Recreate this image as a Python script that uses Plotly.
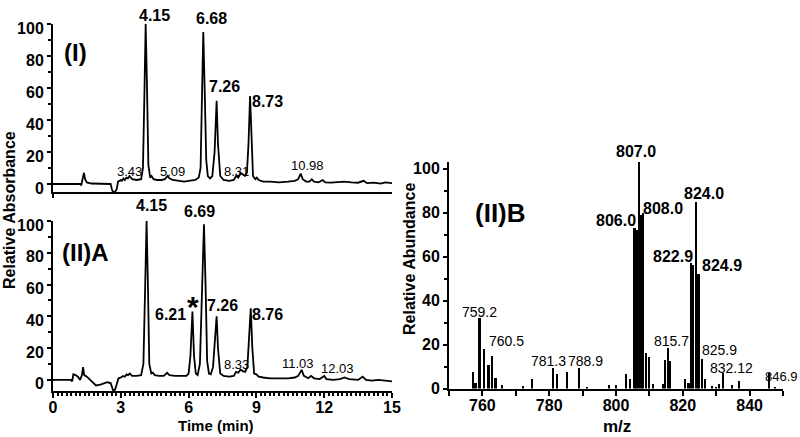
import plotly.graph_objects as go

# ---------------- data ----------------
# Panel (I): chromatogram, time (min) vs relative absorbance
time_I = [0, 0.8, 1.2, 1.25, 1.3, 1.37, 1.42, 1.5, 1.7, 2.0, 2.3, 2.55, 2.6, 2.65, 2.75, 2.82, 2.88,
          3.0, 3.05, 3.12, 3.18, 3.25, 3.32, 3.38, 3.5, 3.7, 3.9, 3.98, 4.05, 4.1, 4.16, 4.22, 4.3,
          4.36, 4.45, 4.6, 4.8, 4.95, 5.07, 5.15, 5.3, 5.5, 5.8, 6.0, 6.3, 6.45, 6.53, 6.6, 6.65,
          6.71, 6.78, 6.85, 6.95, 7.05, 7.15, 7.24, 7.3, 7.4, 7.55, 7.8, 8.0, 8.1, 8.2, 8.3, 8.4,
          8.5, 8.58, 8.65, 8.72, 8.78, 8.85, 8.95, 9.02, 9.1, 9.3, 9.6, 10.0, 10.4, 10.7, 10.85,
          10.96, 11.05, 11.2, 11.35, 11.45, 11.55, 11.75, 11.93, 12.05, 12.3, 12.6, 12.9, 13.2,
          13.5, 13.74, 13.9, 14.2, 14.5, 14.7, 15.0]
absorb_I = [0, 0, 0, -0.8, 2, 7, 3, 1, 0.3, 0.3, 0, 0, -3, -5, -5, -3, 1.5,
            2.5, 2, 3.5, 2.5, 4, 3.5, 5, 3, 2.5, 3, 10, 60, 100, 60, 12, 4,
            5, 3, 2.5, 2.5, 3, 5, 3.5, 2.5, 2, 1.5, 2, 2.5, 4, 10, 60, 95,
            60, 15, 5, 3.5, 5, 20, 52, 25, 5, 2.5, 2, 2.5, 5, 4, 7, 6,
            5, 7, 25, 55, 25, 5, 3, 4, 2.5, 1.5, 1.5, 1, 1.5, 2, 3,
            6.5, 3, 1.5, 1.5, 3, 1.5, 1, 2.5, 1, 0.8, 1, 1.5, 1,
            0.8, 2, 0.5, 0.8, 0.3, 1, 0.5]

# Panel (II)A: chromatogram
time_IIA = [0, 0.8, 0.85, 0.9, 1.0, 1.1, 1.2, 1.28, 1.33, 1.38, 1.5, 1.6, 1.75, 1.9, 2.1, 2.25, 2.4,
            2.55, 2.62, 2.67, 2.75, 2.82, 2.9, 3.0, 3.1, 3.18, 3.25, 3.32, 3.4, 3.5, 3.7, 3.9, 4.0,
            4.08, 4.14, 4.2, 4.26, 4.35, 4.42, 4.5, 4.7, 4.9, 5.05, 5.15, 5.4, 5.7, 5.9, 6.0, 6.08,
            6.17, 6.24, 6.32, 6.4, 6.5, 6.6, 6.68, 6.75, 6.82, 6.9, 6.98, 7.08, 7.15, 7.24, 7.3,
            7.4, 7.55, 7.8, 8.0, 8.1, 8.2, 8.3, 8.4, 8.5, 8.6, 8.67, 8.75, 8.82, 8.9, 9.0, 9.1,
            9.3, 9.6, 10.0, 10.4, 10.7, 10.85, 11.0, 11.1, 11.3, 11.42, 11.55, 11.8, 12.0, 12.1,
            12.4, 12.7, 12.9, 13.1, 13.5, 13.7, 13.85, 14.1, 14.4, 14.7, 15.0]
absorb_IIA = [0, 0, -1, 3.5, 3, 2, 0, 3, 8, 3, 2, 0.5, -1.5, -3.5, -3, -2, -1.5,
              -2, -5, -7, -6, -2, 1, 1.5, 2.5, 2, 3.5, 3, 4, 2.5, 2.5, 3, 10,
              60, 100, 60, 10, 4, 4.5, 3, 2.5, 2.5, 4.5, 3, 2.5, 2.5, 2.5, 4, 15,
              43, 15, 4, 3, 10, 60, 98, 60, 12, 4, 3.5, 8, 25, 40, 20,
              4, 2.5, 2, 2.5, 5, 4.5, 6.5, 5.5, 5, 8, 25, 45, 20, 4, 3.5, 2,
              1.5, 1, 1, 1, 1.5, 2.5, 6.3, 2.5, 1, 2.5, 1, 0.5, 2.5, 0.5,
              0, 0.5, 1.5, 0.5, 0, 2, 0, -0.5, 0, -0.5, -1]

# Panel (II)B: mass spectrum, m/z vs relative abundance
mz_B = [757.3, 758.0, 759.2, 760.5, 761.9, 763.0, 764.0, 766.0, 772.3, 774.8, 781.3, 782.3,
        785.5, 788.9, 791.3, 797.9, 800.0, 803.0, 804.2, 805.6, 806.2, 807.0, 807.7, 808.1,
        809.0, 810.0, 811.2, 814.2, 814.8, 815.7, 816.3, 820.7, 821.8, 822.6, 823.2, 824.0,
        824.6, 825.0, 825.9, 826.7, 828.8, 829.9, 830.9, 832.1, 834.9, 836.8, 846.0, 847.7]
abund_B = [7.3, 2.5, 32, 18, 10.7, 15, 5, 1.8, 1.2, 4.5, 9.3, 6.7,
           7.3, 9.3, 0.4, 1.8, 1.8, 6.7, 4.4, 73, 72, 103, 79, 80,
           16, 14.5, 2, 2, 12.8, 18.5, 12.3, 4.2, 2.4, 57, 56, 85,
           52, 52, 13.5, 4.5, 1, 0.8, 2, 7, 1.8, 3.4, 7, 0.5]

# peak labels (text, x, y)
labels_I = ["4.15", "6.68", "7.26", "8.73"]
labels_I_x = [4.5, 7.0, 7.6, 9.49]
labels_I_y = [105.6, 103.5, 60.8, 51.4]
minor_I = ["3.43", "5.09", "8.31", "10.98"]
minor_I_x = [3.37, 5.3, 8.1, 11.26]
minor_I_y = [7.7, 7.7, 7.7, 11.5]

labels_IIA = ["4.15", "6.69", "6.21", "7.26", "8.76"]
labels_IIA_x = [4.38, 6.5, 5.2, 7.52, 9.51]
labels_IIA_y = [109.7, 106, 41, 47, 41.3]
minor_IIA = ["8.33", "11.03", "12.03"]
minor_IIA_x = [8.1, 10.84, 12.59]
minor_IIA_y = [9.4, 10, 7.4]

labels_B = ["807.0", "806.0", "808.0", "824.0", "822.9", "824.9"]
labels_B_x = [805.9, 800.0, 814.1, 826.2, 817.0, 831.6]
labels_B_y = [108, 76.6, 81.9, 88.7, 59.9, 56.1]
minor_B = ["759.2", "760.5", "781.3", "788.9", "815.7", "825.9", "832.12", "846.9"]
minor_B_x = [759.0, 767.3, 779.8, 790.9, 816.7, 831.1, 834.5, 849.5]
minor_B_y = [34.9, 21.6, 12.5, 12.5, 21.6, 17.5, 9.5, 5.4]

# ---------------- figure ----------------
FONT = "Arial, Liberation Sans, sans-serif"
H = 437.0

# axis geometry (pixels)
Y1 = (192, 24, -5, 100)      # bottom px, top px, range min, range max
Y2 = (391, 221, -7, 100)
Y3 = (388.5, 162, 0, 103)

fig = go.Figure()
fig.add_trace(go.Scatter(x=time_I, y=absorb_I, mode="lines", line=dict(color="black", width=1.8),
                         xaxis="x", yaxis="y", showlegend=False, hoverinfo="skip"))
fig.add_trace(go.Scatter(x=time_IIA, y=absorb_IIA, mode="lines", line=dict(color="black", width=1.8),
                         xaxis="x2", yaxis="y2", showlegend=False, hoverinfo="skip"))
fig.add_trace(go.Bar(x=mz_B, y=abund_B, width=0.5, marker=dict(color="black", line=dict(width=0)),
                     xaxis="x3", yaxis="y3", showlegend=False, hoverinfo="skip"))

def ydom(g):
    return [1 - g[0] / H, 1 - g[1] / H]

tickfont = dict(family=FONT, size=16, color="black", weight="bold")
common = dict(showline=True, linecolor="black", linewidth=2, showgrid=False, zeroline=False,
              ticks="outside", tickcolor="black", tickwidth=1.5, tickfont=tickfont)
minor_y = dict(dtick=10, ticks="outside", ticklen=3, tickcolor="black")

fig.update_layout(
    width=800, height=437, margin=dict(l=0, r=0, t=0, b=0, autoexpand=False),
    plot_bgcolor="white", paper_bgcolor="white", bargap=0,
    font=dict(family=FONT, color="black"),
    xaxis=dict(domain=[53 / 800, 392 / 800], range=[0, 15], anchor="y", tickvals=[0],
               showticklabels=False, ticklen=4, **common),
    yaxis=dict(domain=ydom(Y1), range=[Y1[2], Y1[3]], anchor="x", tick0=0, dtick=20, ticklen=4,
               ticklabelshift=4, minor=minor_y, **common),
    xaxis2=dict(domain=[53 / 800, 392 / 800], range=[0, 15], anchor="y2", tick0=0, dtick=3, ticklen=5,
                ticklabelstandoff=-4,
                minor=dict(dtick=0.2, ticks="outside", ticklen=3, tickcolor="black"), **common),
    yaxis2=dict(domain=ydom(Y2), range=[Y2[2], Y2[3]], anchor="x2", tick0=0, dtick=20, ticklen=4,
                ticklabelshift=4, minor=minor_y, **common),
    xaxis3=dict(domain=[449 / 800, 783 / 800], range=[750, 850], anchor="y3", tick0=0, dtick=20,
                ticklen=5, ticklabelstandoff=-4,
                minor=dict(dtick=10, ticks="outside", ticklen=5, tickcolor="black"), **common),
    yaxis3=dict(domain=ydom(Y3), range=[Y3[2], Y3[3]], anchor="x3", tick0=0, dtick=20, ticklen=4,
                minor=minor_y, **common),
)

ann = []
def add(text, x, y, xref, yref, size, bold=True, geom=None, **kw):
    yshift = 0
    if geom is not None and y > geom[3]:
        pxu = (geom[0] - geom[1]) / (geom[3] - geom[2])
        yshift = (y - geom[3]) * pxu
        y = geom[3]
    ann.append(dict(text=text, x=x, y=y, xref=xref, yref=yref, showarrow=False,
                    xanchor="center", yanchor="middle", yshift=yshift,
                    font=dict(family=FONT, size=size, color="black",
                              weight="bold" if bold else "normal"), **kw))

for t, x, y in zip(labels_I, labels_I_x, labels_I_y):
    add(t, x, y, "x", "y", 16, geom=Y1)
for t, x, y in zip(minor_I, minor_I_x, minor_I_y):
    add(t, x, y, "x", "y", 13, bold=False, geom=Y1)
for t, x, y in zip(labels_IIA, labels_IIA_x, labels_IIA_y):
    add(t, x, y, "x2", "y2", 16, geom=Y2)
for t, x, y in zip(minor_IIA, minor_IIA_x, minor_IIA_y):
    add(t, x, y, "x2", "y2", 13, bold=False, geom=Y2)
for t, x, y in zip(labels_B, labels_B_x, labels_B_y):
    add(t, x, y, "x3", "y3", 16, geom=Y3)
for t, x, y in zip(minor_B, minor_B_x, minor_B_y):
    add(t, x, y, "x3", "y3", 14 if t != "846.9" else 13, bold=False, geom=Y3)

add("(I)", 1.0, 81.9, "x", "y", 24)
add("(II)A", 1.42, 80, "x2", "y2", 24)
add("*", 6.18, 46.5, "x2", "y2", 30)
add("(II)B", 765.3, 79.9, "x3", "y3", 26)

add("Relative Absorbance", 9 / 800, 1 - 210 / H, "paper", "paper", 16, textangle=-90)
add("Relative Abundance", 409 / 800, 1 - 259 / H, "paper", "paper", 16, textangle=-90)
add("Time (min)", 216 / 800, 1 - 425 / H, "paper", "paper", 15)
add("m/z", 617 / 800, 1 - 426 / H, "paper", "paper", 17)

fig.update_layout(annotations=ann)
fig.write_html("out.html", config={"displayModeBar": False},
               post_script="document.body.style.margin='0';document.body.style.overflow='hidden';")
